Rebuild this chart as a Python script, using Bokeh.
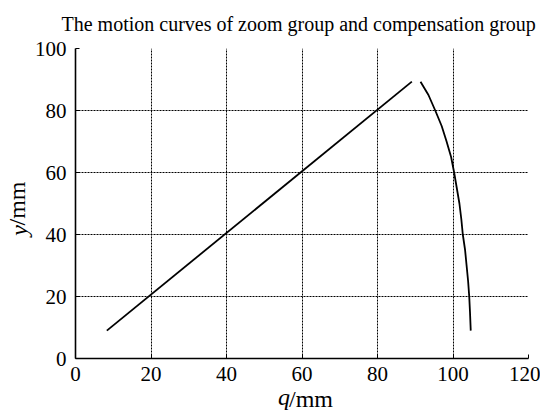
from bokeh.plotting import figure
from bokeh.embed import file_html
from bokeh.resources import INLINE
from bokeh.models import Range1d, FixedTicker, LinearAxis, Title

# Zoom group (straight line)
zoom_q = [8.3, 89.1]
zoom_y = [9, 89.3]

# Compensation group (curve)
comp_q = [91.4, 93.5, 95.3, 97.0, 98.3, 99.5, 100.3, 101.0, 101.7, 102.2, 102.6, 103.2, 103.6, 104.0, 104.3, 104.5, 104.7]
comp_y = [89.3, 85, 80, 75, 70, 65, 60, 55, 50, 45, 40, 35, 30, 25, 20, 15, 9]

x_ticks = [0, 20, 40, 60, 80, 100, 120]
y_ticks = [0, 20, 40, 60, 80, 100]

title_text = "The motion curves of zoom group and compensation group"
x_label_var, x_label_unit = "q", "/mm"
y_label_var, y_label_unit = "y", "/mm"

FONT = "Liberation Serif"
LABEL_SIZE = 24
NB = "\u00a0"

p = figure(width=540, height=416, output_backend="svg", toolbar_location=None,
           x_range=Range1d(0, 120), y_range=Range1d(0, 100),
           min_border_left=72, min_border_right=12, min_border_top=48, min_border_bottom=58)

p.outline_line_color = None
p.background_fill_color = "white"
p.border_fill_color = "white"

main_x = p.below[0]
main_y = p.left[0]

def style_label(ax, text, italic, size=LABEL_SIZE):
    ax.axis_label = text
    ax.axis_label_text_font = FONT
    ax.axis_label_text_font_size = f"{size}px"
    ax.axis_label_text_font_style = "italic" if italic else "normal"
    ax.axis_label_text_color = "black"

def bare_axis():
    return LinearAxis(ticker=FixedTicker(ticks=[]), axis_line_color=None,
                      major_tick_line_color=None, minor_tick_line_color=None,
                      major_label_text_font_size="0px")

for ax, ticks in ((main_x, x_ticks), (main_y, y_ticks)):
    ax.ticker = FixedTicker(ticks=ticks)
    ax.axis_line_color = "black"
    ax.axis_line_width = 1.6
    ax.major_tick_in = 4
    ax.major_tick_out = 0
    ax.major_tick_line_color = "black"
    ax.minor_tick_line_color = None
    ax.major_label_text_font = FONT
    ax.major_label_text_font_size = "21px"
    ax.major_label_text_color = "black"
main_x.major_label_standoff = 8
main_y.major_label_standoff = 9

# axis labels: italic variable on the main axis, upright unit on a companion axis
style_label(main_x, NB + x_label_var + NB * 7, True)
main_x.axis_label_standoff = 0
style_label(main_y, y_label_var + NB * 9, True)
main_y.axis_label_standoff = 0

# Title
t = Title(text=title_text, text_font=FONT, text_font_size="20px", text_font_style="normal",
          text_color="black", align="left", offset=-14, vertical_align="top", standoff=23)
p.add_layout(t, "above")

xa2 = bare_axis()
style_label(xa2, NB * 3 + x_label_unit, False)
ya2 = bare_axis()
style_label(ya2, NB * 2 + y_label_unit + NB * 2, False)
xa2.axis_label_standoff = -27
ya2.axis_label_standoff = -27
p.add_layout(xa2, "below")
p.add_layout(ya2, "left")

p.xgrid[0].ticker = main_x.ticker
p.ygrid[0].ticker = main_y.ticker
for g in (p.xgrid[0], p.ygrid[0]):
    g.grid_line_color = "black"
    g.grid_line_dash = "2 1"
    g.grid_line_width = 1
    g.grid_line_alpha = 1.0

p.line(zoom_q, zoom_y, line_color="black", line_width=1.8)
p.line(comp_q, comp_y, line_color="black", line_width=1.8)

open("out.html", "w").write(file_html(p, INLINE))
